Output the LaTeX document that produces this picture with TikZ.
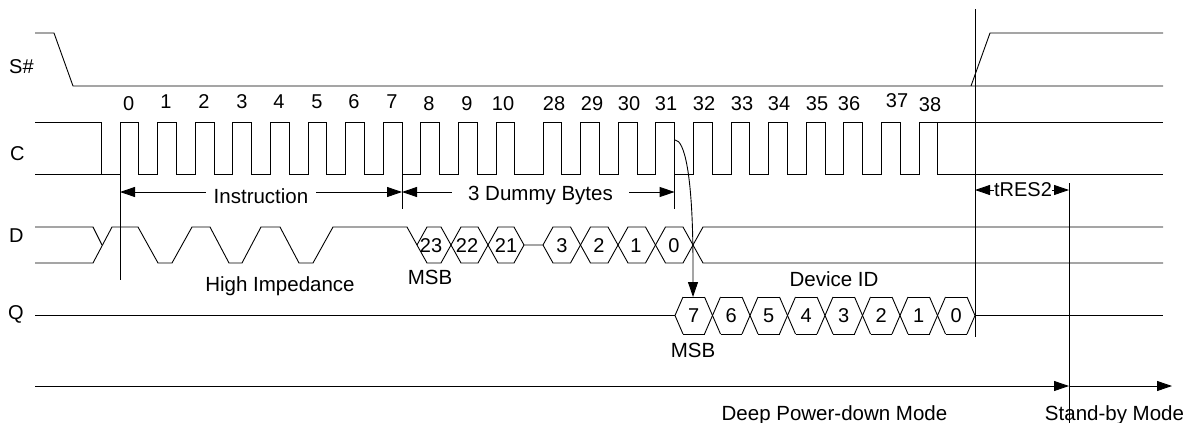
\documentclass[tikz,border=0pt]{standalone}
\usepackage{fontspec}
\setmainfont{Liberation Sans}
\usetikzlibrary{arrows.meta}
\begin{document}
\begin{tikzpicture}[x=1pt,y=-1pt,
  sig/.style={line width=0.9pt, line join=miter},
  lbl/.style={font=\fontsize{20}{22}\selectfont, anchor=base west, inner sep=0},
  num/.style={font=\fontsize{20}{22}\selectfont, anchor=base, inner sep=0},
  hexnum/.style={font=\fontsize{20}{21}\selectfont, anchor=base, inner sep=0},
  txt/.style={font=\fontsize{20.5}{24}\selectfont, anchor=base, inner sep=0},
  tip/.style={-{Triangle[length=15pt,width=10pt]}},
  dimarrow/.style={line width=0.9pt,{Triangle[length=15pt,width=10pt]}-{Triangle[length=15pt,width=10pt]}}
]
\useasboundingbox (0,0) rectangle (1192,423);

% signal names
\node[lbl] (lS) at (9,73) {S\#};
\node[lbl] (lC) at (10,160) {C};
\node[lbl] (lD) at (9,242) {D};
\node[lbl] (lQ) at (8,319) {Q};

% S#
\draw[sig] (35,33) -- (54,33) -- (73,86) -- (1163,86);
\draw[sig] (971,86) -- (990,33) -- (1163,33);

% C
\draw[sig] (35,122) -- (101,122) -- (101,174);
\draw[sig] (35,174) foreach \r in {120,157.6,195.2,232.8,270.4,308,345.6,383.2,420.8,458.4,496,543,580.6,618.2,655.8,693.4,731,768.6,806.2,843.8,881.4,919} { -- (\r,174) -- (\r,122) -- ++(18.8,0) -- ++(0,52) } -- (1163,174);
\draw[sig] (937.8,122) -- (1163,122);

% clock numbers
\foreach \t/\x/\y in {0/128.7/110,1/166/108,2/204/108,3/242/108,4/279/108,5/317/108,6/354/108,7/392/108,8/429/110,9/467/110,10/503/110,28/554/110,29/592/110,30/629/110,31/666/110,32/704/110,33/742/110,34/779/110,35/817/110,36/849/110,37/897/107,38/930/111}
  \node[num] (n\t) at (\x,\y) {\t};

% D
\draw[sig] (35,227) -- (93,227) -- (102,245);
\draw[sig] (35,263) -- (93,263) -- (112,227) -- (138,227) -- (158,263) -- (172,263) -- (192,227) -- (210,227) -- (229,263) -- (242,263) -- (261,227) -- (280,227) -- (299,263) -- (313,263) -- (333,227) -- (407,227) -- (427,263) -- (441,263) -- (461,227) -- (478,227) -- (498,263) -- (514,263) -- (524,245) -- (543,245) -- (553,227) -- (570.5,227) -- (590.5,263) -- (608,263) -- (628,227) -- (645.5,227) -- (665.5,263) -- (683,263) -- (703,227) -- (1163,227);
\draw[sig] (417,245) -- (427,227) -- (441,227) -- (461,263) -- (478,263) -- (498,227) -- (514,227) -- (524,245);
\draw[sig] (543,245) -- (553,263) -- (570.5,263) -- (590.5,227) -- (608,227) -- (628,263) -- (645.5,263) -- (665.5,227) -- (683,227) -- (703,263) -- (1163,263);
\foreach \t/\x in {23/431,22/467,21/506,3/562,2/599,1/636,0/674}
  \node[hexnum] (d\t) at (\x,252) {\t};

% Q
\draw[sig] (35,315.5) -- (675,315.5);
\draw[sig] (683,297) -- (675,315.5) -- (683,334);
\foreach \c in {712.5,750,787.5,825,862.5,900,937.5} {
  \draw[sig] ({\c-8},297) -- ({\c+8},334);
  \draw[sig] ({\c-8},334) -- ({\c+8},297);
}
\foreach \a in {675,712.5,750,787.5,825,862.5,900,937.5} {
  \draw[sig] ({\a+8},297) -- ({\a+29.5},297);
  \draw[sig] ({\a+8},334) -- ({\a+29.5},334);
}
\draw[sig] (967,297) -- (975,315.5) -- (967,334);
\draw[sig] (975,315.5) -- (1163,315.5);
\foreach \t [count=\i from 0] in {7,6,5,4,3,2,1,0}
  \node[hexnum] (q\i) at ({693.75+37.5*\i},322) {\t};

% marker lines
\coordinate (a0) at (120,174); \coordinate (a1) at (120,280);
\coordinate (b0) at (402,174); \coordinate (b1) at (402,209);
\coordinate (c0) at (674.6,174); \coordinate (c1) at (674.6,209);
\coordinate (e0) at (975,9); \coordinate (e1) at (975,337);
\coordinate (f0) at (1069,183); \coordinate (f1) at (1069,423);
\draw[sig] (a0) -- (a1);
\draw[sig] (b0) -- (b1);
\draw[sig] (c0) -- (c1);
\draw[sig] (e0) -- (e1);
\draw[sig] (f0) -- (f1);

% dimension arrows
\coordinate (i0) at (120,192); \coordinate (i1) at (402,192);
\coordinate (j1) at (674.6,192);
\coordinate (t0) at (975,190); \coordinate (t1) at (1069,190);
\draw[dimarrow] (i0) -- (i1);
\draw[dimarrow] (i1) -- (j1);
\draw[dimarrow] (t0) -- (t1);
\node[txt, fill=white, inner xsep=8pt] (instr) at (261,203) {Instruction};
\node[txt, fill=white, inner xsep=16pt] (dummy) at (540.5,200) {3 Dummy Bytes};
\node[txt, font=\fontsize{20}{24}\selectfont, fill=white, inner xsep=0.5pt] (tres) at (1023,196) {tRES2};

% curved arrow from clock 31 to Q MSB
\coordinate (k0) at (675,140);
\coordinate (k1) at (693,297);
\draw[sig, tip] (k0) .. controls (684,140) and (693,172) .. (693,265) -- (k1);

% mode arrows
\coordinate (m0) at (35,386); \coordinate (m1) at (1069,386); \coordinate (m2) at (1172,386);
\draw[sig, tip] (m0) -- (m1);
\draw[sig, tip] (m1) -- (m2);

% texts
\node[txt] (hiz) at (280,291) {High Impedance};
\node[txt] (msb1) at (430,284) {MSB};
\node[txt] (msb2) at (693,357) {MSB};
\node[txt] (devid) at (834,286) {Device ID};
\node[txt] (dpd) at (834.5,420) {Deep Power-down Mode};
\node[txt] (stby) at (1114.5,420) {Stand-by Mode};
\end{tikzpicture}
\end{document}
